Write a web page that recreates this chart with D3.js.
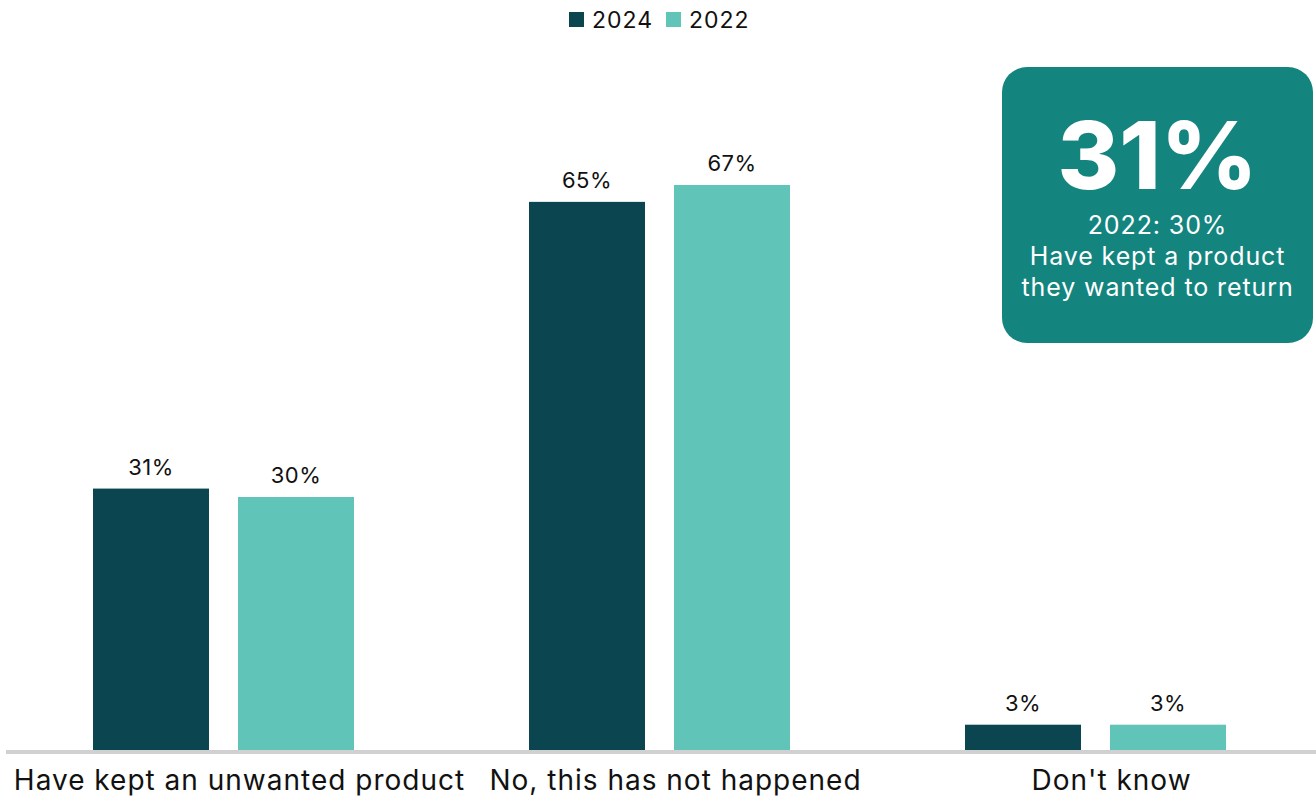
<!DOCTYPE html>
<html>
<head>
<meta charset="utf-8">
<script src="https://cdn.jsdelivr.net/npm/d3@7"></script>
<style>
  body { margin: 0; background: #fff; }
  svg { display: block; font-family: Inter, "Noto Sans", sans-serif; }
</style>
</head>
<body>
<div id="chart-container"></div>
<script>
// data
const categories = ["Have kept an unwanted product", "No, this has not happened", "Don't know"];
const seriesNames = ["2024", "2022"];
const values2024 = [31, 65, 3];
const values2022 = [30, 67, 3];
const calloutLines = ["31%", "2022: 30%", "Have kept a product", "they wanted to return"];

const colors = { "2024": "#0b4650", "2022": "#61c4b9" };

const width = 1316;
const height = 800;
const baseline = 750;

const svg = d3.select("#chart-container")
    .append("svg")
    .attr("width", width)
    .attr("height", height);

// one band per category, two bars per band
const x0 = d3.scaleBand()
    .domain(categories)
    .range([5.5, 1313.5])
    .padding(0);

const groupOffset = (x0.bandwidth() - 261) / 2;
const x1 = d3.scaleBand()
    .domain(seriesNames)
    .range([0, 261])
    .paddingInner(0.2);

const y = d3.scaleLinear()
    .domain([0, 67])
    .range([baseline, 185]);

const data = categories.map((c, i) => ({
    category: c,
    bars: [
        { series: "2024", value: values2024[i] },
        { series: "2022", value: values2022[i] }
    ]
}));

const groups = svg.selectAll("g.group")
    .data(data)
    .enter()
    .append("g")
    .attr("class", "group")
    .attr("transform", d => `translate(${x0(d.category) + groupOffset},0)`);

// Bars
groups.selectAll("rect")
    .data(d => d.bars)
    .enter()
    .append("rect")
    .attr("x", d => x1(d.series))
    .attr("y", d => y(d.value))
    .attr("width", x1.bandwidth())
    .attr("height", d => baseline - y(d.value))
    .attr("fill", d => colors[d.series]);

// Value labels
groups.selectAll("text")
    .data(d => d.bars)
    .enter()
    .append("text")
    .attr("x", d => x1(d.series) + x1.bandwidth() / 2)
    .attr("y", d => y(d.value) - 14)
    .attr("text-anchor", "middle")
    .attr("font-size", 22)
    .attr("letter-spacing", 0.5)
    .attr("fill", "#111")
    .text(d => d.value + "%");

// baseline / x axis
const xAxis = svg.append("g")
    .attr("transform", `translate(0,${baseline})`)
    .call(d3.axisBottom(x0).tickSize(0).tickPadding(0));

xAxis.select(".domain")
    .attr("d", `M6,2H${width}`)
    .attr("stroke", "#d0d0d0")
    .attr("stroke-width", 4);

xAxis.selectAll(".tick text")
    .attr("dx", 16)
    .attr("y", 40)
    .attr("dy", 0)
    .attr("font-size", 28)
    .attr("letter-spacing", 1)
    .attr("font-family", "Inter, sans-serif")
    .attr("fill", "#111");

// Legend
const legend = svg.append("g").attr("transform", "translate(569,12)");
const legendX = [0, 97];
seriesNames.forEach((s, i) => {
    legend.append("rect")
        .attr("x", legendX[i])
        .attr("y", 0)
        .attr("width", 15)
        .attr("height", 15)
        .attr("fill", colors[s]);
    legend.append("text")
        .attr("x", legendX[i] + 23)
        .attr("y", 16)
        .attr("font-size", 23)
        .attr("letter-spacing", 1)
        .attr("fill", "#111")
        .text(s);
});

// Callout box
const box = { x: 1002, y: 67, w: 311, h: 276 };
const callout = svg.append("g");
callout.append("rect")
    .attr("x", box.x)
    .attr("y", box.y)
    .attr("width", box.w)
    .attr("height", box.h)
    .attr("rx", 25)
    .attr("fill", "#14847f");

const cx = box.x + box.w / 2;
callout.append("text")
    .attr("x", cx)
    .attr("y", 189)
    .attr("text-anchor", "middle")
    .attr("font-size", 94)
    .attr("font-weight", 800)
    .attr("fill", "#fff")
    .text(calloutLines[0]);

const lineY = [234, 265, 296];
calloutLines.slice(1).forEach((t, i) => {
    callout.append("text")
        .attr("x", cx)
        .attr("y", lineY[i])
        .attr("text-anchor", "middle")
        .attr("font-size", 25)
        .attr("letter-spacing", 0.9)
        .attr("fill", "#fff")
        .text(t);
});
</script>
</body>
</html>
